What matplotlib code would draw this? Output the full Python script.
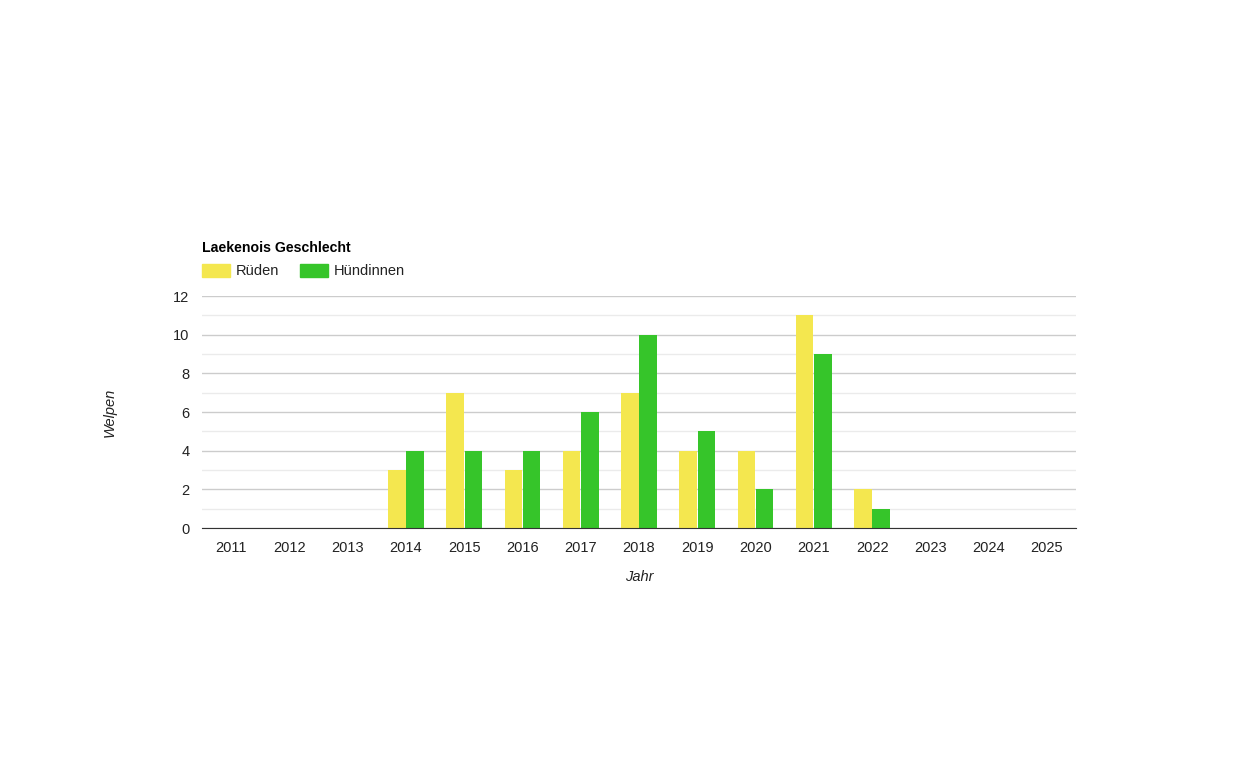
import numpy as np
import matplotlib
matplotlib.use('Agg')
import matplotlib.pyplot as plt
from matplotlib.patches import Rectangle

plt.rcParams['font.family'] = ['Liberation Sans', 'DejaVu Sans']

years = [str(y) for y in range(2011, 2026)]
rueden = [0, 0, 0, 3, 7, 3, 4, 7, 4, 4, 11, 2, 0, 0, 0]
huendinnen = [0, 0, 0, 4, 4, 4, 6, 10, 5, 2, 9, 1, 0, 0, 0]

YELLOW = "#F4E74F"
GREEN = "#36C52A"

W, H = 1249, 760
fig = plt.figure(figsize=(W / 100, H / 100), dpi=100)
ax = fig.add_axes([202 / W, 1 - 528 / H, (1076 - 202) / W, (528 - 296) / H])

x = np.arange(len(years))
bw = 0.3
ax.bar(x - bw / 2 - 0.006, rueden, width=bw, color=YELLOW, zorder=3)
ax.bar(x + bw / 2 + 0.006, huendinnen, width=bw, color=GREEN, zorder=3)

ax.set_xlim(-0.5, len(years) - 0.5)
ax.set_ylim(0, 12)
ax.set_yticks(range(0, 13, 2))
ax.set_yticks(range(1, 13, 2), minor=True)
ax.grid(axis='y', which='major', color='#cccccc', linewidth=1, zorder=0)
ax.grid(axis='y', which='minor', color='#ebebeb', linewidth=1, zorder=0)
ax.set_xticks(x)
ax.set_xticklabels(years)
ax.tick_params(axis='both', which='both', length=0, labelsize=10.5,
               labelcolor='#222222')
ax.tick_params(axis='y', pad=9)
ax.tick_params(axis='x', pad=9)
for s in ['top', 'right', 'left']:
    ax.spines[s].set_visible(False)
ax.spines['bottom'].set_color('#333333')
ax.spines['bottom'].set_zorder(4)

fig.text(639 / W, 1 - 577 / H, "Jahr", ha='center', va='center',
         fontsize=10.5, style='italic', color='#222222')
fig.text(110 / W, 1 - 412 / H, "Welpen", ha='center', va='center',
         fontsize=10.5, style='italic', rotation=90, color='#222222')

fig.text(202 / W, 1 - 248 / H, "Laekenois Geschlecht", ha='left', va='center',
         fontsize=10.2, fontweight='bold', color='#000000')

# legend
for x0, col, label in [(202, YELLOW, "Rüden"), (300, GREEN, "Hündinnen")]:
    fig.patches.append(Rectangle((x0 / W, 1 - 277 / H), 28 / W, 13 / H,
                                 transform=fig.transFigure, color=col))
    fig.text((x0 + 34) / W, 1 - 271 / H, label, ha='left', va='center',
             fontsize=10.5, color='#222222')

plt.savefig("out.png", dpi=100)
